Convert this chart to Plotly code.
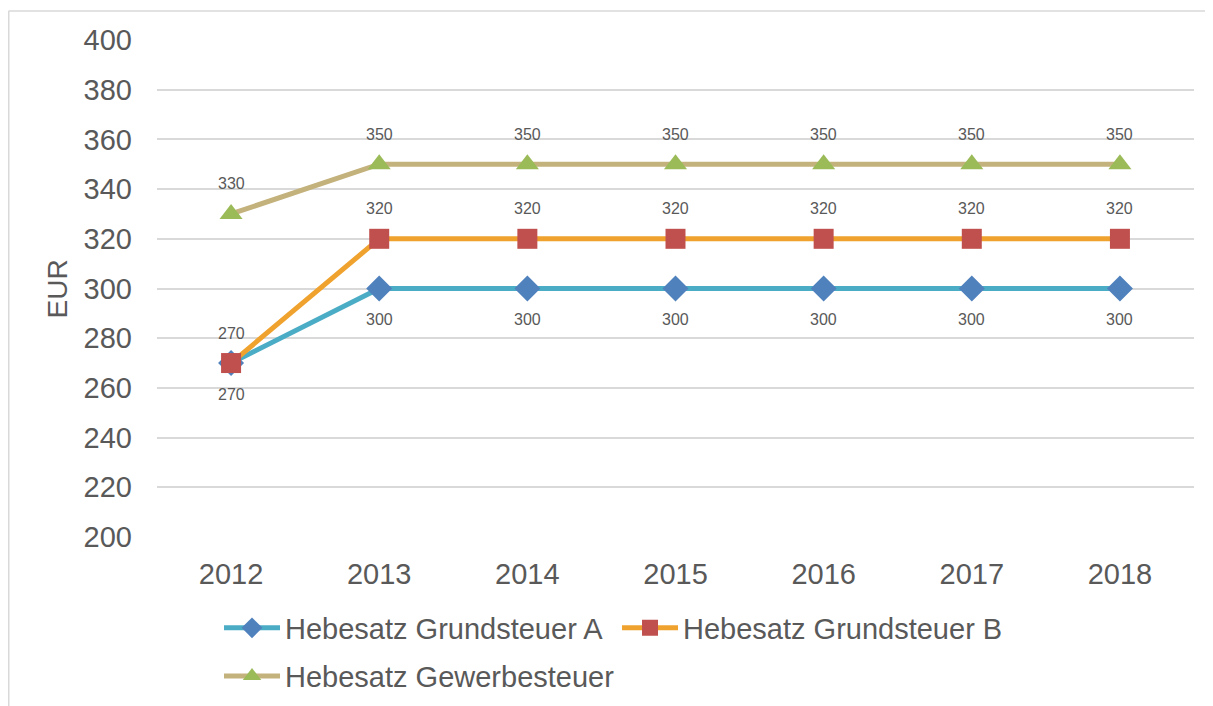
import plotly.graph_objects as go

years = ["2012", "2013", "2014", "2015", "2016", "2017", "2018"]
grund_a = [270, 300, 300, 300, 300, 300, 300]
grund_b = [270, 320, 320, 320, 320, 320, 320]
gewerbe = [330, 350, 350, 350, 350, 350, 350]
names = ["Hebesatz Grundsteuer A", "Hebesatz Grundsteuer B", "Hebesatz Gewerbesteuer"]
y_ticks = [200, 220, 240, 260, 280, 300, 320, 340, 360, 380, 400]
y_title = "EUR"

FONT = "Liberation Sans, Arial, sans-serif"
TXT = "#595959"

fig = go.Figure()
fig.add_trace(go.Scatter(
    x=years, y=grund_a, name=names[0], mode="lines+markers",
    line=dict(color="#4BACC6", width=5),
    marker=dict(symbol="diamond", size=20, color="#4F81BD"),
    legend="legend"))
fig.add_trace(go.Scatter(
    x=years, y=grund_b, name=names[1], mode="lines+markers",
    line=dict(color="#F0A22E", width=5),
    marker=dict(symbol="square", size=20, color="#C0504D"),
    legend="legend"))
fig.add_trace(go.Scatter(
    x=years, y=gewerbe, name=names[2], mode="lines+markers",
    line=dict(color="#C4B27C", width=5),
    marker=dict(symbol="triangle-up", size=20, color="#9BBB59"),
    legend="legend2"))

annotations = []
for series, shift in ((grund_a, -31), (grund_b, 30), (gewerbe, 30)):
    for i, yv in enumerate(series):
        annotations.append(dict(x=i, y=yv, xref="x", yref="y", text=str(yv),
                                showarrow=False, yshift=shift,
                                font=dict(family=FONT, size=16, color=TXT)))
# y-axis title
annotations.append(dict(text=y_title, xref="paper", yref="paper", x=-0.0955, y=0.5,
                        xanchor="center", yanchor="middle", textangle=-90,
                        showarrow=False, font=dict(family=FONT, size=28, color=TXT)))

fig.update_layout(
    width=1213, height=706,
    margin=dict(l=149, r=27, t=32, b=177),
    paper_bgcolor="white", plot_bgcolor="white",
    font=dict(family=FONT, color=TXT),
    annotations=annotations,
    xaxis=dict(type="category", range=[-0.5, len(years) - 0.5],
               showgrid=False, showline=False, zeroline=False,
               tickfont=dict(family=FONT, size=29, color=TXT),
               ticklabelstandoff=17),
    yaxis=dict(range=[200, 400], tickvals=y_ticks, showgrid=True,
               gridcolor="#D9D9D9", gridwidth=1.5, zeroline=False, showline=False,
               tickfont=dict(family=FONT, size=29, color=TXT),
               ticklabelstandoff=24),
    legend=dict(orientation="h", x=0.0598, xanchor="left", y=-0.183, yanchor="middle",
                entrywidth=327, entrywidthmode="pixels", itemwidth=56,
                font=dict(family=FONT, size=29, color=TXT), bgcolor="rgba(0,0,0,0)"),
    legend2=dict(orientation="h", x=0.0598, xanchor="left", y=-0.280, yanchor="middle",
                 itemwidth=56,
                 font=dict(family=FONT, size=29, color=TXT), bgcolor="rgba(0,0,0,0)"),
    shapes=[
        dict(type="line", xref="paper", yref="paper", x0=-0.1432, x1=1.1,
             y0=1.0584, y1=1.0584, line=dict(color="#D9D9D9", width=1.5)),
        dict(type="line", xref="paper", yref="paper", x0=-0.1432, x1=-0.1432,
             y0=1.0584, y1=-0.5, line=dict(color="#D9D9D9", width=2)),
    ],
    showlegend=True,
)

fig.write_html("out.html")
